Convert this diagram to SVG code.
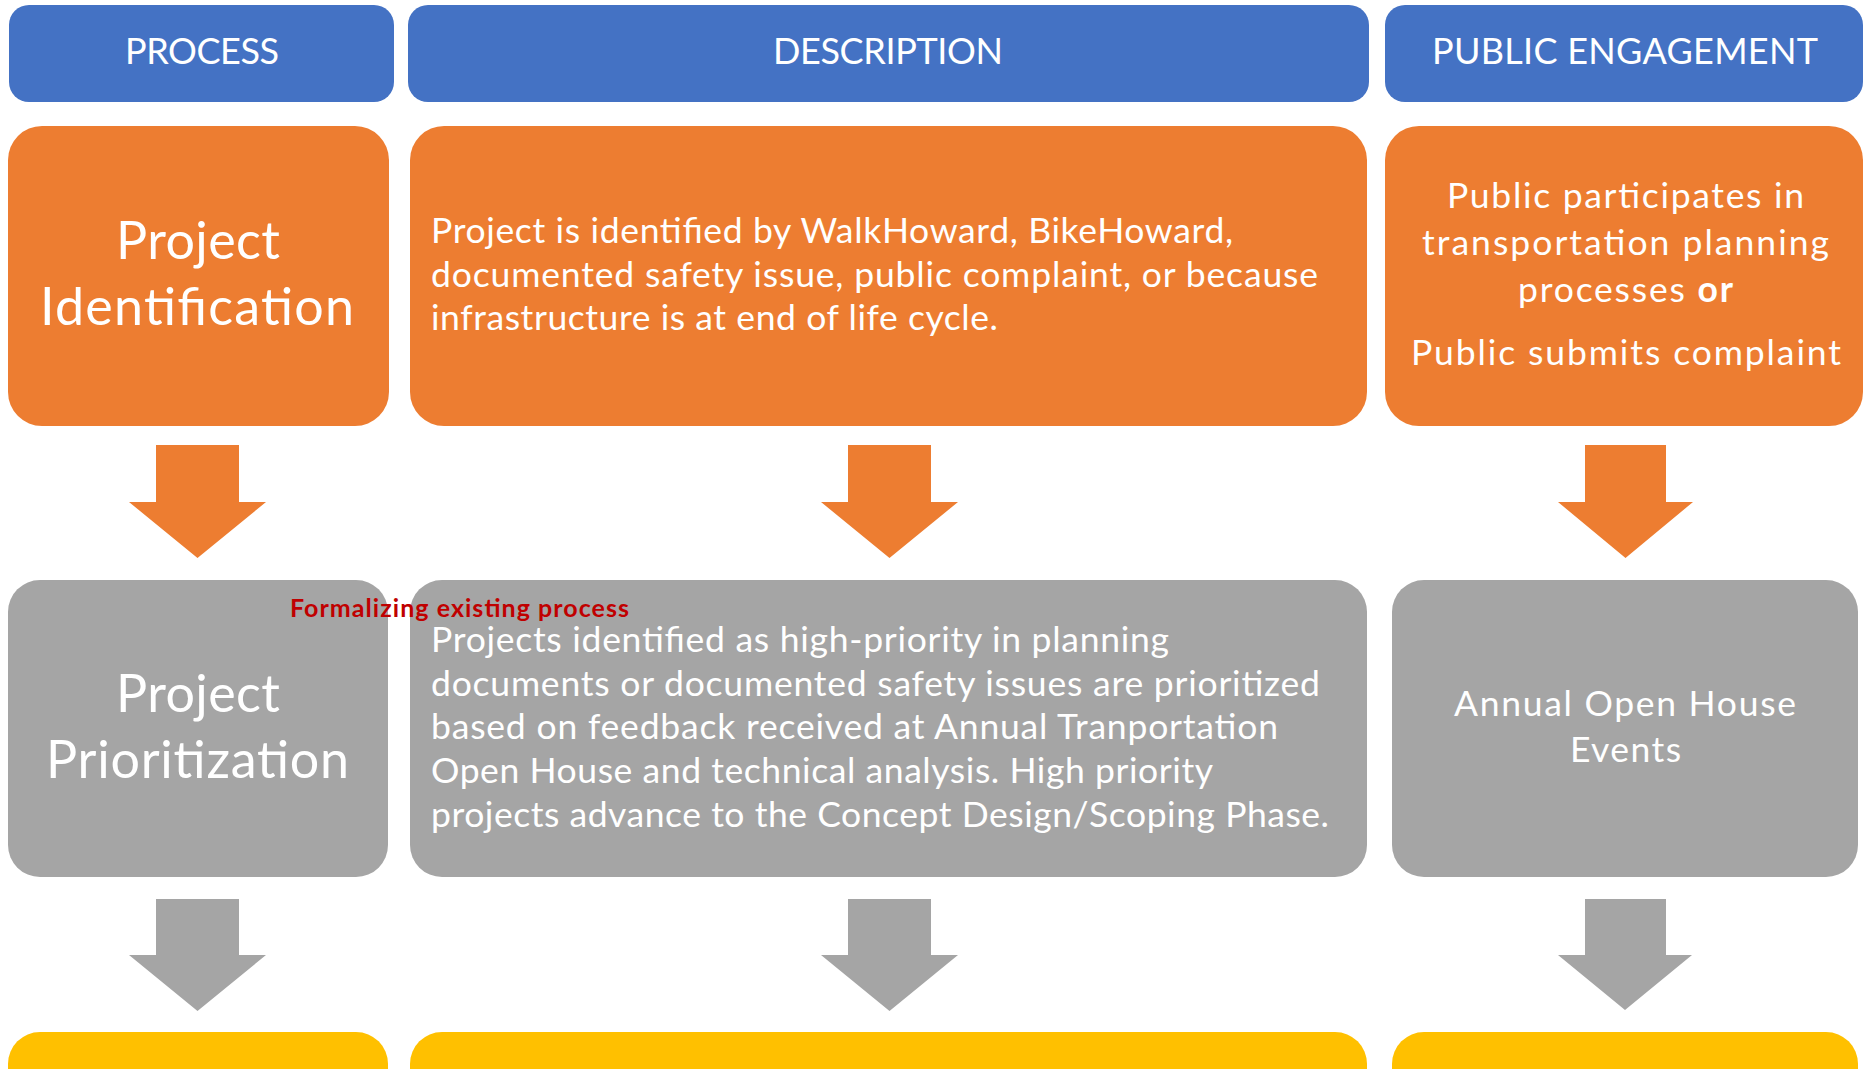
<svg xmlns="http://www.w3.org/2000/svg" width="1864" height="1069" viewBox="0 0 1864 1069">
<style>
.hdr{fill:#4472C4}
.org{fill:#ED7D31}
.gry{fill:#A5A5A5}
.yel{fill:#FFC000}
text{font-family:Lato,"Open Sans","Liberation Sans",sans-serif;fill:#FFFFFF}
.h{font-size:36px}
.t{font-size:52px}
.b{font-size:35.5px}
.red{font-size:25px;font-weight:bold;fill:#C00000}
</style>
<rect width="1864" height="1069" fill="#FFFFFF"/>
<g id="hdr-process"><rect class="hdr" x="9" y="5" width="385" height="97" rx="20"/><text class="h" x="125" y="64" textLength="154" lengthAdjust="spacing">PROCESS</text></g>
<g id="hdr-description"><rect class="hdr" x="408" y="5" width="961" height="97" rx="20"/><text class="h" x="773" y="64" textLength="230" lengthAdjust="spacing">DESCRIPTION</text></g>
<g id="hdr-public"><rect class="hdr" x="1385" y="5" width="478" height="97" rx="20"/><text class="h" x="1432" y="64" textLength="386" lengthAdjust="spacing">PUBLIC ENGAGEMENT</text></g>

<g id="identification"><rect class="org" x="8" y="126" width="381" height="300" rx="34"/><text class="t" x="116" y="259" textLength="164" lengthAdjust="spacing">Project</text><text class="t" x="40" y="325" textLength="314" lengthAdjust="spacing">Identification</text></g>
<g id="identification-desc"><rect class="org" x="410" y="126" width="957" height="300" rx="34"/><text class="b" x="431" y="243" textLength="802" lengthAdjust="spacing">Project is identified by WalkHoward, BikeHoward,</text><text class="b" x="431" y="287" textLength="887" lengthAdjust="spacing">documented safety issue, public complaint, or because</text><text class="b" x="431" y="330" textLength="567" lengthAdjust="spacing">infrastructure is at end of life cycle.</text></g>
<g id="identification-public"><rect class="org" x="1385" y="126" width="478" height="300" rx="34"/><text class="b" x="1447" y="208" textLength="357" lengthAdjust="spacing">Public participates in</text><text class="b" x="1422" y="255" textLength="407" lengthAdjust="spacing">transportation planning</text><text class="b" x="1518" y="302" textLength="215" lengthAdjust="spacing">processes <tspan font-weight="bold">or</tspan></text><text class="b" x="1411" y="365" textLength="430" lengthAdjust="spacing">Public submits complaint</text></g>

<g id="prioritization"><rect class="gry" x="8" y="580" width="380" height="297" rx="32"/><text class="t" x="116" y="712" textLength="164" lengthAdjust="spacing">Project</text><text class="t" x="46" y="778" textLength="303" lengthAdjust="spacing">Prioritization</text></g>
<g id="prioritization-desc"><rect class="gry" x="410" y="580" width="957" height="297" rx="32"/><text class="b" x="431" y="652" textLength="738" lengthAdjust="spacing">Projects identified as high-priority in planning</text><text class="b" x="431" y="695.5" textLength="889" lengthAdjust="spacing">documents or documented safety issues are prioritized</text><text class="b" x="431" y="739" textLength="847" lengthAdjust="spacing">based on feedback received at Annual Tranportation</text><text class="b" x="431" y="783" textLength="782" lengthAdjust="spacing">Open House and technical analysis. High priority</text><text class="b" x="431" y="826.5" textLength="898" lengthAdjust="spacing">projects advance to the Concept Design/Scoping Phase.</text></g>
<g id="prioritization-public"><rect class="gry" x="1392" y="580" width="466" height="297" rx="32"/><text class="b" x="1454" y="716" textLength="342" lengthAdjust="spacing">Annual Open House</text><text class="b" x="1570" y="762" textLength="111" lengthAdjust="spacing">Events</text></g>

<g id="note"><text class="red" x="290" y="617" textLength="339" lengthAdjust="spacing">Formalizing existing process</text></g>

<g id="next-row"><rect class="yel" x="8" y="1032" width="380" height="120" rx="32"/><rect class="yel" x="410" y="1032" width="957" height="120" rx="32"/><rect class="yel" x="1392" y="1032" width="466" height="120" rx="32"/></g>

<g id="connectors">
<polygon class="org" points="156,445 239,445 239,502 266,502 197.5,558 129,502 156,502"/>
<polygon class="org" points="848,445 931,445 931,502 958,502 889.5,558 821,502 848,502"/>
<polygon class="org" points="1585,445 1666,445 1666,502 1693,502 1625.5,558 1558,502 1585,502"/>
<polygon class="gry" points="156,899 239,899 239,955 266,955 197.5,1011 129,955 156,955"/>
<polygon class="gry" points="848,899 931,899 931,955 958,955 889.5,1011 821,955 848,955"/>
<polygon class="gry" points="1585,899 1666,899 1666,955 1692,955 1625,1010 1558,955 1585,955"/>
</g>
</svg>
